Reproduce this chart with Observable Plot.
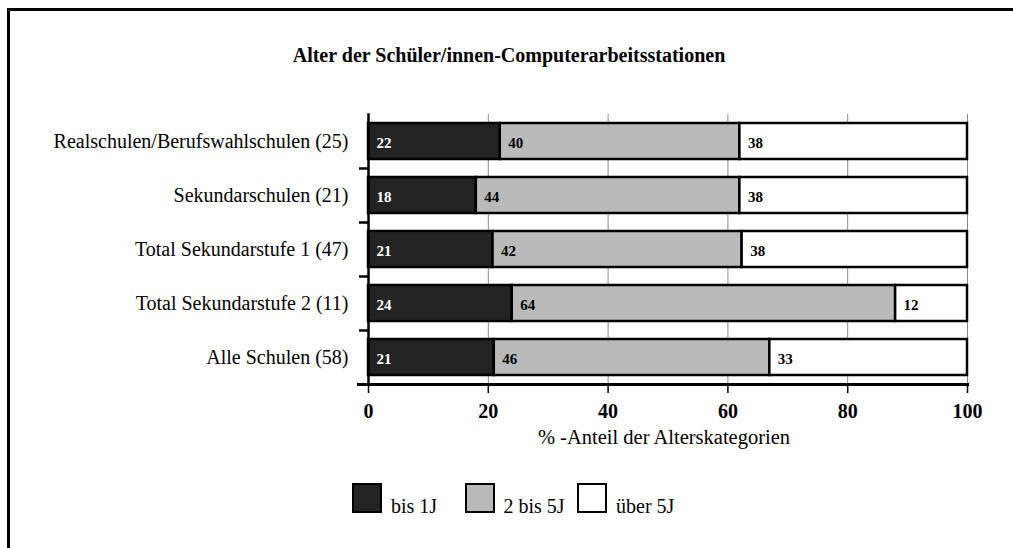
<!DOCTYPE html>
<html><head><meta charset="utf-8">
<script src="https://cdn.jsdelivr.net/npm/d3@7"></script>
<script src="https://cdn.jsdelivr.net/npm/@observablehq/plot@0.6"></script>
<style>
body{margin:0;background:#fff;font-family:"Liberation Serif",serif;}
#wrap{position:relative;width:1013px;height:548px;overflow:hidden;}
#border{position:absolute;left:7px;top:8px;right:-10px;bottom:-10px;border-left:3px solid #000;border-top:3px solid #000;}
#chart{position:absolute;left:0;top:0;}
#title{position:absolute;left:0;width:1018px;top:44px;text-align:center;font-weight:bold;font-size:20px;line-height:22px;color:#000;}
#legend{position:absolute;left:352px;top:483px;display:flex;}
.item{width:112.5px;display:flex;align-items:flex-end;}
.sw{width:26px;height:26px;border:2px solid #000;flex:none;}
.lab{margin-left:9px;font-size:20px;line-height:20px;margin-bottom:-3px;color:#000;white-space:nowrap;}
</style></head><body>
<div id="wrap"><div id="border"></div><div id="chart"></div><div id="title"></div><div id="legend"></div></div>
<script>
const title = "Alter der Schüler/innen-Computerarbeitsstationen";
const categories = ["Realschulen/Berufswahlschulen (25)", "Sekundarschulen (21)", "Total Sekundarstufe 1 (47)", "Total Sekundarstufe 2 (11)", "Alle Schulen (58)"];
const series = ["bis 1J", "2 bis 5J", "über 5J"];
const bis1J = [22, 18, 21, 24, 21];
const bis5J = [40, 44, 42, 64, 46];
const ueber5J = [38, 38, 38, 12, 33];
const xTicks = [0, 20, 40, 60, 80, 100];
const xLabel = "% -Anteil der Alterskategorien";
const colors = ["#232323", "#bababa", "#ffffff"];
const textColors = ["#ffffff", "#000000", "#000000"];

const valuesBySeries = [bis1J, bis5J, ueber5J];
const data = [];
categories.forEach((c, i) => {
  series.forEach((s, j) => data.push({cat: c, series: s, value: valuesBySeries[j][i], tc: textColors[j]}));
});

document.getElementById("title").textContent = title;

// the stack is normalized to shares (0..1); ticks are placed at the shares of the percent tick labels
const tickShares = xTicks.map(t => t / 100);

const plot = Plot.plot({
  width: 1013,
  height: 548,
  marginTop: 114,
  marginBottom: 164,
  marginLeft: 368,
  marginRight: 46,
  style: {fontFamily: "Liberation Serif", fontSize: "20px", background: "transparent", color: "#000", overflow: "visible"},
  x: {domain: [0, 1], label: null},
  y: {domain: categories, paddingInner: 1/3, paddingOuter: 1/6, label: null},
  color: {domain: series, range: colors},
  marks: [
    Plot.gridX(tickShares, {stroke: "#8a8a8a", strokeOpacity: 1, strokeWidth: 1}),
    Plot.barX(data, Plot.stackX({offset: "normalize", x: "value", y: "cat", fill: "series", stroke: "#000", strokeWidth: 2.5})),
    Plot.text(data, Plot.stackX1({offset: "normalize", x: "value", y: "cat", text: d => String(d.value), fill: "tc", textAnchor: "start", dx: 8, dy: 2, fontSize: 15, fontWeight: "bold"})),
    Plot.frame({anchor: "left", strokeWidth: 2.5}),
    Plot.frame({anchor: "bottom", strokeWidth: 3, insetLeft: -10}),
    Plot.ruleY(categories.slice(1), {y: d => d, x1: 0, x2: 0, insetLeft: -9, dy: -27, strokeWidth: 2.5}),
    Plot.axisX(tickShares, {tickSize: 9, tickPadding: 10, tickFormat: (d, i) => String(xTicks[i]), fontWeight: "bold", fontSize: 20, strokeWidth: 1.5, label: null}),
    Plot.axisY({tickSize: 0, tickPadding: 20, fontSize: 20, label: null}),
    Plot.text([xLabel], {frameAnchor: "bottom", dx: -4, dy: 53, lineAnchor: "middle", fontSize: 20.5})
  ]
});
document.getElementById("chart").appendChild(plot);

const legend = document.getElementById("legend");
series.forEach((s, j) => {
  const item = document.createElement("div");
  item.className = "item";
  const sw = document.createElement("div");
  sw.className = "sw";
  sw.style.background = colors[j];
  const lab = document.createElement("span");
  lab.className = "lab";
  lab.textContent = s;
  item.appendChild(sw);
  item.appendChild(lab);
  legend.appendChild(item);
});
</script>
</body></html>
